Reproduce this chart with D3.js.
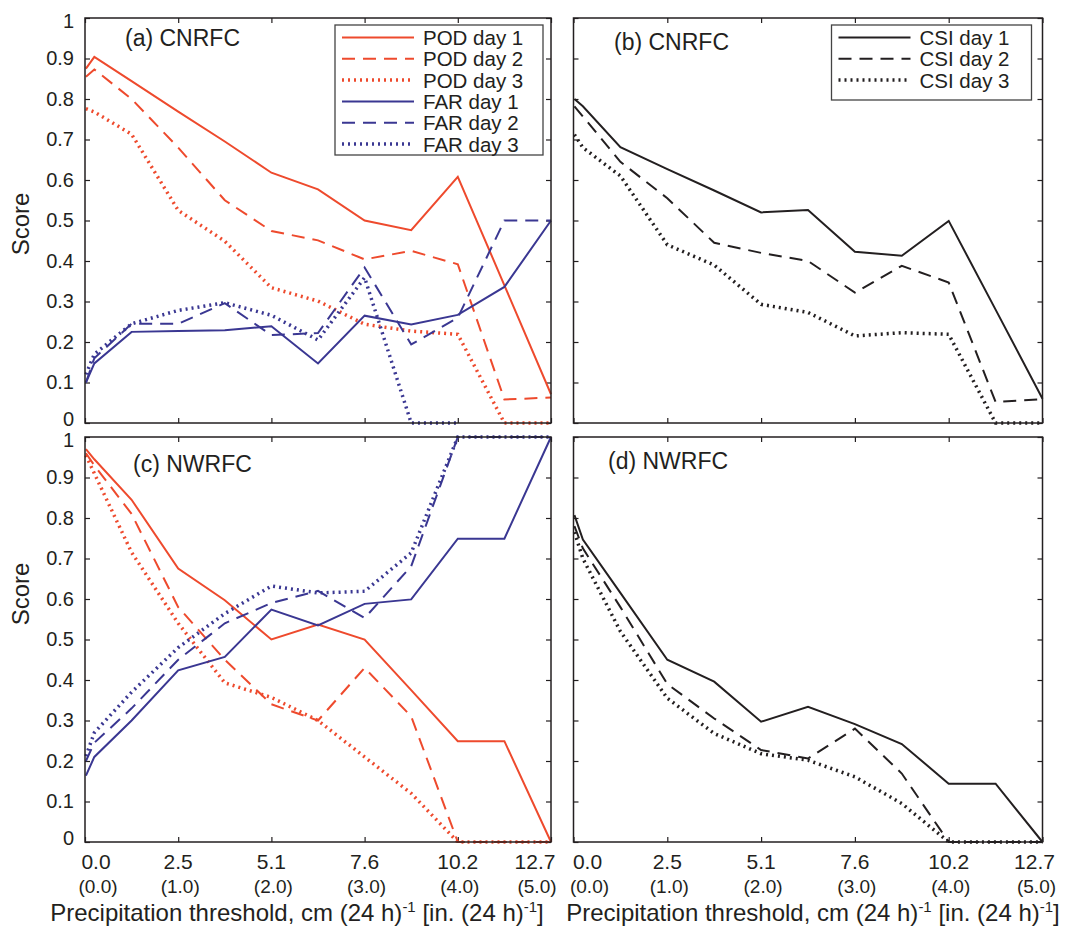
<!DOCTYPE html>
<html>
<head>
<meta charset="utf-8">
<script src="https://cdn.jsdelivr.net/npm/d3@7"></script>
<style>
  body { margin: 0; background: #fff; }
  text { font-family: "Liberation Sans", Arial, Helvetica, sans-serif; fill: #231f20; }
</style>
</head>
<body>
<div id="my_dataviz"></div>
<script>
// thresholds (inches / 24 h) where the scores were computed
var thresholdsIn = [0.01, 0.1, 0.5, 1, 1.5, 2, 2.5, 3, 3.5, 4, 4.5, 5];

// tick values and labels
var yTicks = [0, 0.1, 0.2, 0.3, 0.4, 0.5, 0.6, 0.7, 0.8, 0.9, 1];
var xTicksIn = [0, 1, 2, 3, 4, 5];
var xTickCm = ["0.0", "2.5", "5.1", "7.6", "10.2", "12.7"];
var xTickInch = ["(0.0)", "(1.0)", "(2.0)", "(3.0)", "(4.0)", "(5.0)"];

// CNRFC scores
var cnrfcPod1 = [0.875, 0.904, 0.844, 0.769, 0.695, 0.618, 0.577, 0.50, 0.476, 0.608, 0.34, 0.071];
var cnrfcPod2 = [0.855, 0.873, 0.80, 0.68, 0.55, 0.474, 0.451, 0.404, 0.425, 0.392, 0.058, 0.063];
var cnrfcPod3 = [0.776, 0.768, 0.713, 0.525, 0.449, 0.334, 0.301, 0.244, 0.227, 0.219, 0, 0];
var cnrfcFar1 = [0.10, 0.147, 0.225, 0.227, 0.229, 0.239, 0.147, 0.265, 0.243, 0.267, 0.336, 0.50];
var cnrfcFar2 = [0.10, 0.16, 0.245, 0.245, 0.296, 0.217, 0.222, 0.384, 0.194, 0.26, 0.50, 0.50];
var cnrfcFar3 = [0.12, 0.17, 0.245, 0.278, 0.297, 0.266, 0.205, 0.359, 0, 0, null, null];
var cnrfcCsi1 = [0.80, 0.782, 0.681, 0.627, 0.574, 0.52, 0.526, 0.423, 0.413, 0.499, 0.28, 0.06];
var cnrfcCsi2 = [0.782, 0.757, 0.645, 0.555, 0.445, 0.42, 0.40, 0.322, 0.388, 0.347, 0.052, 0.059];
var cnrfcCsi3 = [0.712, 0.68, 0.61, 0.44, 0.39, 0.293, 0.273, 0.215, 0.223, 0.219, 0, 0];

// NWRFC scores
var nwrfcPod1 = [0.97, 0.945, 0.845, 0.675, 0.597, 0.50, 0.537, 0.50, 0.375, 0.249, 0.249, 0];
var nwrfcPod2 = [0.96, 0.93, 0.81, 0.58, 0.45, 0.34, 0.30, 0.43, 0.31, 0, 0, 0];
var nwrfcPod3 = [0.955, 0.91, 0.715, 0.54, 0.393, 0.357, 0.30, 0.21, 0.12, 0, 0, 0];
var nwrfcFar1 = [0.164, 0.21, 0.30, 0.424, 0.457, 0.574, 0.535, 0.588, 0.599, 0.749, 0.749, 1.0];
var nwrfcFar2 = [0.20, 0.245, 0.33, 0.45, 0.54, 0.59, 0.62, 0.553, 0.681, 1, 1, 1];
var nwrfcFar3 = [0.212, 0.27, 0.37, 0.48, 0.564, 0.632, 0.615, 0.619, 0.714, 1, 1, 1];
var nwrfcCsi1 = [0.807, 0.747, 0.615, 0.45, 0.396, 0.297, 0.334, 0.291, 0.242, 0.144, 0.144, 0];
var nwrfcCsi2 = [0.78, 0.725, 0.58, 0.39, 0.305, 0.227, 0.206, 0.28, 0.169, 0, 0, 0];
var nwrfcCsi3 = [0.765, 0.70, 0.52, 0.355, 0.268, 0.218, 0.202, 0.161, 0.095, 0, 0, 0];

var red = "#ee4a2d", blue = "#3a3792", black = "#231f20";
var dash = { solid: null, dashed: "13,8", dotted: "2,4" };

var svg = d3
  .select("#my_dataviz")
  .append("svg")
  .attr("width", 1066)
  .attr("height", 931);

function fmtY(d) {
  return String(Math.round(d * 10) / 10);
}

function lineWidth(style) {
  return style == "dotted" ? 3.5 : 2;
}

function drawPanel(p) {
  var x = d3.scaleLinear().domain([0, 5]).range([p.left, p.right]);
  var y = d3.scaleLinear().domain([0, 1]).range([p.bottom, p.top]);
  var g = svg.append("g");

  // inward ticks on all four sides
  var axes = [
    [d3.axisLeft(y).tickValues(yTicks), "translate(" + p.left + ",0)", p.yLabels],
    [d3.axisRight(y).tickValues(yTicks), "translate(" + p.right + ",0)", false],
    [d3.axisTop(x).tickValues(xTicksIn), "translate(0," + p.top + ")", false],
    [d3.axisBottom(x).tickValues(xTicksIn), "translate(0," + p.bottom + ")", false]
  ];
  axes.forEach(function (a, i) {
    var ax = a[0].tickSize(-5).tickPadding(11);
    ax.tickFormat(a[2] ? fmtY : "");
    var ag = g.append("g").attr("transform", a[1]).call(ax);
    ag.select(".domain").remove();
    ag.selectAll("line").attr("stroke", black).attr("stroke-width", 1.2);
    ag.attr("font-size", 20).attr("font-family", null);
    // nudge the end labels apart where two panels meet
    if (a[2]) {
      ag.selectAll(".tick text").attr("y", function (d) {
        if (d == 0) return -4;
        if (d == 1) return 3;
        return 0;
      });
    }
  });

  // two-line x tick labels (cm over inches)
  if (p.xLabels) {
    var lab = g.append("g").attr("font-size", 21);
    xTicksIn.forEach(function (t, i) {
      var shift = 0;
      if (i == 0) shift = p.firstShift;
      if (i == xTicksIn.length - 1) shift = p.lastShift;
      var tx = lab.append("text").attr("text-anchor", "middle");
      tx.append("tspan").attr("x", x(t) + shift).attr("y", p.bottom + 27).text(xTickCm[i]);
      tx.append("tspan").attr("x", x(t) + shift + 2).attr("y", p.bottom + 51)
        .attr("font-size", 19).text(xTickInch[i]);
    });

    var title = g.append("text")
      .attr("x", p.titleX)
      .attr("y", 921)
      .attr("text-anchor", "middle")
      .attr("font-size", 24);
    title.append("tspan").text("Precipitation threshold, cm (24 h)");
    title.append("tspan").attr("dy", -9).attr("font-size", 15).text("-1");
    title.append("tspan").attr("dy", 9).text(" [in. (24 h)");
    title.append("tspan").attr("dy", -9).attr("font-size", 15).text("-1");
    title.append("tspan").attr("dy", 9).text("]");
  }

  if (p.scoreY) {
    g.append("text")
      .attr("transform", "translate(29," + p.scoreY + ") rotate(-90)")
      .attr("text-anchor", "middle")
      .attr("font-size", 24)
      .text("Score");
  }

  // the score lines
  var line = d3
    .line()
    .defined(function (d) { return d[1] != null; })
    .x(function (d) { return x(d[0]); })
    .y(function (d) { return y(d[1]); });

  p.series.forEach(function (s) {
    var pts = thresholdsIn.map(function (t, i) { return [t, s.values[i]]; });
    g.append("path")
      .datum(pts)
      .attr("d", line)
      .attr("fill", "none")
      .attr("stroke", s.color)
      .attr("stroke-width", lineWidth(s.style))
      .attr("stroke-dasharray", dash[s.style]);
  });

  // box
  g.append("rect")
    .attr("x", p.left)
    .attr("y", p.top)
    .attr("width", p.right - p.left)
    .attr("height", p.bottom - p.top)
    .attr("fill", "none")
    .attr("stroke", black)
    .attr("stroke-width", 1.5);

  g.append("text")
    .attr("x", p.labelX)
    .attr("y", p.labelY)
    .attr("font-size", 23)
    .text(p.label);

  if (p.legend) {
    var L = p.legend;
    var lg = g.append("g");
    lg.append("rect")
      .attr("x", L.x).attr("y", L.y)
      .attr("width", L.w).attr("height", L.h)
      .attr("fill", "#fff")
      .attr("stroke", "#444")
      .attr("stroke-width", 1.3);
    p.series.forEach(function (s, i) {
      var cy = L.y + 12.5 + i * 21.3;
      lg.append("line")
        .attr("x1", L.x + 7).attr("x2", L.x + 79)
        .attr("y1", cy).attr("y2", cy)
        .attr("stroke", s.color)
        .attr("stroke-width", lineWidth(s.style))
        .attr("stroke-dasharray", dash[s.style]);
      lg.append("text")
        .attr("x", L.x + 88)
        .attr("y", cy + 7.5)
        .attr("font-size", 20.5)
        .text(s.name);
    });
  }
}

var left = { left: 85, right: 551 }, right = { left: 573.5, right: 1042.5 };
var topRow = { top: 18, bottom: 423 }, botRow = { top: 437, bottom: 842 };

drawPanel({
  left: left.left, right: left.right, top: topRow.top, bottom: topRow.bottom,
  yLabels: true, xLabels: false, scoreY: 224,
  label: "(a) CNRFC", labelX: 125, labelY: 46,
  legend: { x: 335, y: 25, w: 208, h: 130 },
  series: [
    { name: "POD day 1", values: cnrfcPod1, color: red, style: "solid" },
    { name: "POD day 2", values: cnrfcPod2, color: red, style: "dashed" },
    { name: "POD day 3", values: cnrfcPod3, color: red, style: "dotted" },
    { name: "FAR day 1", values: cnrfcFar1, color: blue, style: "solid" },
    { name: "FAR day 2", values: cnrfcFar2, color: blue, style: "dashed" },
    { name: "FAR day 3", values: cnrfcFar3, color: blue, style: "dotted" }
  ]
});

drawPanel({
  left: right.left, right: right.right, top: topRow.top, bottom: topRow.bottom,
  yLabels: false, xLabels: false,
  label: "(b) CNRFC", labelX: 614, labelY: 50,
  legend: { x: 831.5, y: 25, w: 200, h: 75 },
  series: [
    { name: "CSI day 1", values: cnrfcCsi1, color: black, style: "solid" },
    { name: "CSI day 2", values: cnrfcCsi2, color: black, style: "dashed" },
    { name: "CSI day 3", values: cnrfcCsi3, color: black, style: "dotted" }
  ]
});

drawPanel({
  left: left.left, right: left.right, top: botRow.top, bottom: botRow.bottom,
  yLabels: true, xLabels: true, scoreY: 594,
  firstShift: 11, lastShift: -16, titleX: 297,
  label: "(c) NWRFC", labelX: 133, labelY: 472,
  series: [
    { name: "POD day 1", values: nwrfcPod1, color: red, style: "solid" },
    { name: "POD day 2", values: nwrfcPod2, color: red, style: "dashed" },
    { name: "POD day 3", values: nwrfcPod3, color: red, style: "dotted" },
    { name: "FAR day 1", values: nwrfcFar1, color: blue, style: "solid" },
    { name: "FAR day 2", values: nwrfcFar2, color: blue, style: "dashed" },
    { name: "FAR day 3", values: nwrfcFar3, color: blue, style: "dotted" }
  ]
});

drawPanel({
  left: right.left, right: right.right, top: botRow.top, bottom: botRow.bottom,
  yLabels: false, xLabels: true,
  firstShift: 14, lastShift: -8, titleX: 813,
  label: "(d) NWRFC", labelX: 608, labelY: 469,
  series: [
    { name: "CSI day 1", values: nwrfcCsi1, color: black, style: "solid" },
    { name: "CSI day 2", values: nwrfcCsi2, color: black, style: "dashed" },
    { name: "CSI day 3", values: nwrfcCsi3, color: black, style: "dotted" }
  ]
});
</script>
</body>
</html>
